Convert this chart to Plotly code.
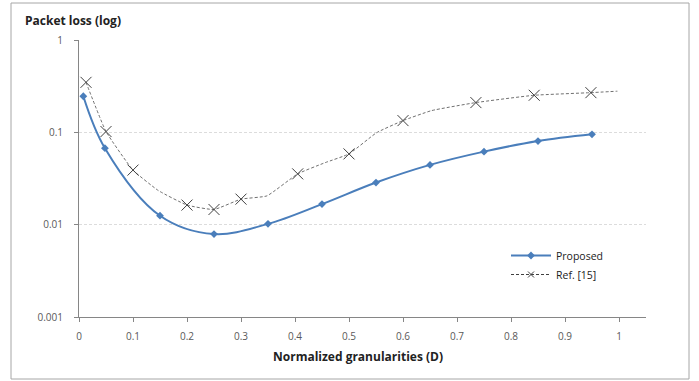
import plotly.graph_objects as go

# Proposed series
prop_x = [0.008, 0.048, 0.15, 0.25, 0.35, 0.45, 0.55, 0.65, 0.75, 0.85, 0.95]
prop_y = [0.246, 0.0673, 0.0125, 0.0079, 0.0102, 0.0167, 0.0286, 0.0444, 0.0618, 0.0805, 0.0952]

# Ref. [15] series (full dashed line)
ref_line_x = [0.013, 0.05, 0.1, 0.147, 0.2, 0.25, 0.3, 0.348, 0.405, 0.456, 0.5, 0.551, 0.6, 0.653, 0.735, 0.843, 0.948, 0.997]
ref_line_y = [0.348, 0.102, 0.039, 0.0234, 0.0163, 0.0146, 0.0189, 0.0205, 0.0355, 0.047, 0.0584, 0.099, 0.134, 0.172, 0.21, 0.252, 0.269, 0.279]
# Ref. [15] marked points
ref_mark_x = [0.013, 0.05, 0.1, 0.2, 0.25, 0.3, 0.405, 0.5, 0.6, 0.735, 0.843, 0.948]
ref_mark_y = [0.348, 0.102, 0.039, 0.0163, 0.0146, 0.0189, 0.0355, 0.0584, 0.134, 0.21, 0.252, 0.269]

x_ticks = [0, 0.1, 0.2, 0.3, 0.4, 0.5, 0.6, 0.7, 0.8, 0.9, 1]
x_labels = ["0", "0.1", "0.2", "0.3", "0.4", "0.5", "0.6", "0.7", "0.8", "0.9", "1"]
y_ticks = [0.001, 0.01, 0.1, 1]
y_labels = ["0.001", "0.01", "0.1", "1"]

FONT = "Open Sans"
BLUE = "#4a7ebb"
GREY = "#707070"

fig = go.Figure()
fig.add_trace(go.Scatter(
    x=prop_x, y=prop_y, mode="lines+markers", name="Proposed",
    line=dict(color=BLUE, width=2, shape="spline", smoothing=1.0),
    marker=dict(symbol="diamond", size=6, color=BLUE),
))
fig.add_trace(go.Scatter(
    x=ref_line_x, y=ref_line_y, mode="lines", name="Ref. [15]",
    line=dict(color=GREY, width=1, dash="3px,2px", shape="spline", smoothing=0.4),
    showlegend=False,
))
fig.add_trace(go.Scatter(
    x=ref_mark_x, y=ref_mark_y, mode="markers", name="Ref. [15]",
    marker=dict(symbol="x-thin-open", size=11, color="#404040", line=dict(width=1, color="#404040")),
    showlegend=False,
))
# legend entry for Ref. [15]
fig.add_trace(go.Scatter(
    x=[None], y=[None], mode="lines+markers", name="Ref. [15]",
    line=dict(color="#404040", width=1, dash="3px,2px"),
    marker=dict(symbol="x-thin-open", size=6, color="#404040", line=dict(width=1, color="#404040")),
))

L, R, T, B = 79, 53, 40, 64
W, H = 699, 381
pw, ph = W - L - R, H - T - B

def px_x(p):
    return (p - L) / pw

def px_y(p):
    return (H - B - p) / ph

fig.update_layout(
    width=W, height=H,
    margin=dict(l=L, r=R, t=T, b=B),
    paper_bgcolor="white", plot_bgcolor="white",
    font=dict(family=FONT, size=10, color="#595959"),
    showlegend=True,
    legend=dict(x=px_x(506), y=px_y(241), xanchor="left", yanchor="top",
                bgcolor="rgba(0,0,0,0)", font=dict(size=10.5, color="#222222"),
                tracegroupgap=0, itemwidth=40),
    xaxis=dict(range=[0, 1.05], tickvals=x_ticks, ticktext=x_labels,
               showgrid=False, zeroline=False, showline=True, linecolor="#868686",
               linewidth=1, ticks="outside", ticklen=4, tickcolor="#868686",
               ticklabelstandoff=6),
    yaxis=dict(type="log", range=[-3, 0], tickvals=y_ticks, ticktext=y_labels,
               showgrid=True, gridcolor="#dcdcdc", griddash="3px,2px", gridwidth=1,
               zeroline=False, showline=True, linecolor="#868686", linewidth=1,
               ticks="outside", ticklen=4, tickcolor="#868686",
               ticklabelstandoff=9),
    shapes=[dict(type="rect", xref="paper", yref="paper",
                 x0=px_x(11), x1=px_x(689), y0=px_y(379), y1=px_y(3),
                 line=dict(color="#a6a6a6", width=1), fillcolor="rgba(0,0,0,0)", layer="below")],
    annotations=[
        dict(text="<b>Packet loss (log)</b>", xref="paper", yref="paper",
             x=px_x(23), y=px_y(20), xanchor="left", yanchor="middle", showarrow=False,
             font=dict(size=12, color="#222222", family=FONT)),
        dict(text="<b>Normalized granularities (D)</b>", xref="paper", yref="paper",
             x=px_x(358), y=px_y(356), xanchor="center", yanchor="middle", showarrow=False,
             font=dict(size=12, color="#222222", family=FONT)),
    ],
)

fig.write_html("out.html")
